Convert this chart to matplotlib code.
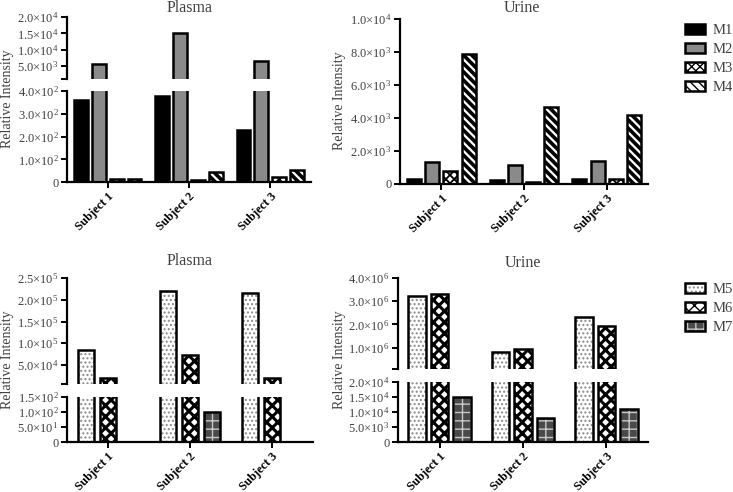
import numpy as np
import matplotlib.pyplot as plt
from matplotlib.patches import Patch

plt.rcParams['font.family'] = ['Liberation Serif', 'DejaVu Serif']
plt.rcParams['mathtext.fontset'] = 'custom'
plt.rcParams['mathtext.rm'] = 'Liberation Serif'
plt.rcParams['mathtext.it'] = 'Liberation Serif:italic'
plt.rcParams['mathtext.bf'] = 'Liberation Serif:bold'

# data
subjects = ['Subject 1', 'Subject 2', 'Subject 3']
plasma_m1 = [360, 380, 230]
plasma_m2 = [5500, 15200, 6500]
plasma_m3 = [15, 8, 25]
plasma_m4 = [15, 45, 54]
urine_m1 = [300, 250, 300]
urine_m2 = [1350, 1170, 1400]
urine_m3 = [770, 140, 300]
urine_m4 = [7880, 4650, 4160]
plasma_m5 = [85000, 220000, 217000]
plasma_m6 = [19000, 74000, 20000]
plasma_m7 = [0, 100, 0]
urine_m5 = [3.2e6, 0.83e6, 2.31e6]
urine_m6 = [3.3e6, 0.94e6, 1.91e6]
urine_m7 = [15000, 8000, 11000]

# name -> (face, hatch, hatch colour, hatch linewidth)
styles = {
    'M1': ('black', None, 'black', 1.0),
    'M2': ('#8a8a8a', None, '#8a8a8a', 1.0),
    'M3': ('white', 'xxxx', 'black', 1.3),
    'M4': ('white', '\\\\\\\\', 'black', 2.6),
    'M5': ('white', '....', '#8a8a8a', 1.0),
    'M6': ('white', 'xxx', 'black', 2.2),
    'M7': ('#4a4a4a', '++', '#c8c8c8', 1.0),
}

W, H = 733, 492
fig = plt.figure(figsize=(W / 100, H / 100), dpi=100)
TXT = '#404040'


def fmt(v):
    if v == 0:
        return '0'
    e = int(np.floor(np.log10(v)))
    return r'$\mathrm{%.1f{\times}10^{%d}}$' % (v / 10 ** e, e)


def make_ax(x0, x1, y0, y1):
    ax = fig.add_axes([x0 / W, 1 - y1 / H, (x1 - x0) / W, (y1 - y0) / H])
    ax.patch.set_alpha(0)
    for s in ['top', 'right']:
        ax.spines[s].set_visible(False)
    for s in ['left', 'bottom']:
        ax.spines[s].set_linewidth(1.6)
    ax.tick_params(width=1.4, length=4.5, labelsize=9, colors='black', labelcolor=TXT, pad=1.5)
    ax.set_xlim(-0.5, 2.5)
    return ax


def bars(ax, series, names, width, step):
    x = np.arange(len(subjects))
    n = len(series)
    for i, (vals, nm) in enumerate(zip(series, names)):
        face, hatch, hc, hlw = styles[nm]
        off = (i - (n - 1) / 2) * step
        with plt.rc_context({'hatch.linewidth': hlw}):
            ax.bar(x + off, vals, width, color=face, edgecolor=hc, hatch=hatch, lw=0)
        ax.bar(x + off, vals, width, fill=False, edgecolor='black', lw=1.8)


def yticks(ax, ticks, extra=None):
    t = list(ticks)
    labels = [fmt(v) for v in t]
    if extra is not None:
        t = [extra] + t
        labels = [''] + labels
    ax.set_yticks(t)
    ax.set_yticklabels(labels)


def xlabels(ax):
    ax.set_xticks(np.arange(len(subjects)))
    ax.set_xticklabels(subjects, rotation=45, ha='right', rotation_mode='anchor',
                       fontweight='bold', fontsize=8.7, color='black')
    ax.tick_params(axis='x', length=4, pad=2)


def broken(xa, xb, yt, yb_up, yt_lo, yb, up_lim, lo_lim, up_ticks, lo_ticks, series, names, width, step):
    up = make_ax(xa, xb, yt, yb_up)
    lo = make_ax(xa, xb, yt_lo, yb)
    for a in (up, lo):
        bars(a, series, names, width, step)
    up.set_ylim(*up_lim)
    lo.set_ylim(*lo_lim)
    up.spines['bottom'].set_visible(False)
    up.set_xticks([])
    yticks(up, up_ticks, extra=up_lim[0])
    yticks(lo, lo_ticks)
    xlabels(lo)
    return up, lo


# top-left: plasma M1-M4
broken(67, 311, 17, 79, 91, 182.3, (1000, 20000), (0, 400),
       [5000, 10000, 15000, 20000], [0, 100, 200, 300, 400],
       [plasma_m1, plasma_m2, plasma_m3, plasma_m4], ['M1', 'M2', 'M3', 'M4'], 0.17, 0.22)
fig.text(190 / W, 1 - 8 / H, 'Plasma', ha='center', va='center', fontsize=11.5, color=TXT)
fig.text(8 / W, 1 - 99 / H, 'Relative Intensity', rotation=90, ha='center', va='center', fontsize=10, color=TXT)

# top-right: urine M1-M4
ax = make_ax(400, 648, 19, 184)
bars(ax, [urine_m1, urine_m2, urine_m3, urine_m4], ['M1', 'M2', 'M3', 'M4'], 0.17, 0.22)
ax.set_ylim(0, 10000)
yticks(ax, [0, 2000, 4000, 6000, 8000, 10000])
xlabels(ax)
fig.text(522 / W, 1 - 8 / H, 'Urine', ha='center', va='center', fontsize=11.5, color=TXT)
fig.text(340 / W, 1 - 101 / H, 'Relative Intensity', rotation=90, ha='center', va='center', fontsize=10, color=TXT)

# bottom-left: plasma M5-M7
broken(67, 313, 278.3, 384, 396.7, 442.3, (6000, 250000), (0, 150),
       [50000, 100000, 150000, 200000, 250000], [0, 50, 100, 150],
       [plasma_m5, plasma_m6, plasma_m7], ['M5', 'M6', 'M7'], 0.2, 0.27)
fig.text(190 / W, 1 - 261 / H, 'Plasma', ha='center', va='center', fontsize=11.5, color=TXT)
fig.text(8 / W, 1 - 360 / H, 'Relative Intensity', rotation=90, ha='center', va='center', fontsize=10, color=TXT)

# bottom-right: urine M5-M7
broken(398, 648, 277.7, 369.3, 381.7, 442.3, (74000, 4e6), (0, 20000),
       [1e6, 2e6, 3e6, 4e6], [0, 5000, 10000, 15000, 20000],
       [urine_m5, urine_m6, urine_m7], ['M5', 'M6', 'M7'], 0.21, 0.27)
fig.text(523 / W, 1 - 263 / H, 'Urine', ha='center', va='center', fontsize=11.5, color=TXT)
fig.text(340 / W, 1 - 360 / H, 'Relative Intensity', rotation=90, ha='center', va='center', fontsize=10, color=TXT)


def legend(names, ytop):
    handles = []
    for nm in names:
        face, hatch, hc, hlw = styles[nm]
        with plt.rc_context({'hatch.linewidth': hlw}):
            p = Patch(facecolor=face, edgecolor=hc, hatch=hatch, lw=0)
        handles.append((p, Patch(fill=False, edgecolor='black', lw=1.8)))
    lg = fig.legend(handles, names, loc='upper left', bbox_to_anchor=(685 / W, 1 - ytop / H),
                    frameon=False, fontsize=10.5, handlelength=1.35, handleheight=0.65,
                    labelspacing=0.42, handletextpad=0.55, borderaxespad=0, borderpad=0)
    for t in lg.get_texts():
        t.set_color(TXT)


legend(['M1', 'M2', 'M3', 'M4'], 24)
legend(['M5', 'M6', 'M7'], 283)

fig.savefig('out.png', dpi=100)
